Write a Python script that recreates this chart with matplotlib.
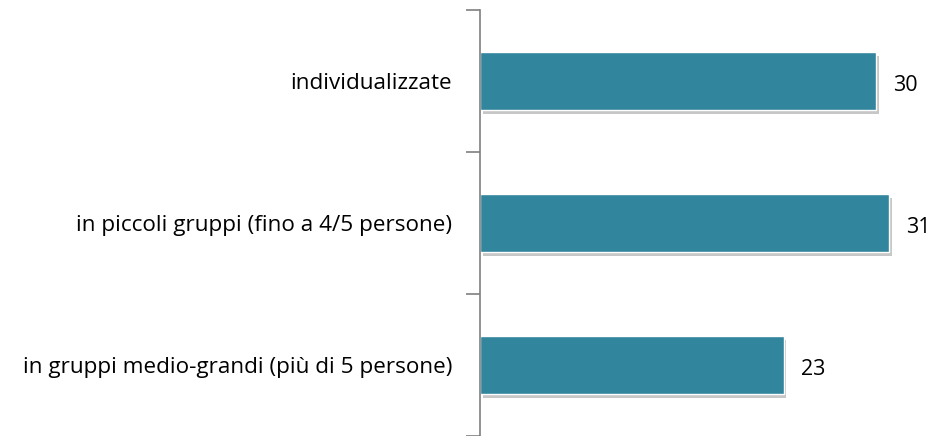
import matplotlib
matplotlib.use("Agg")
import matplotlib.pyplot as plt
import matplotlib.patheffects as pe

categories = ["individualizzate", "in piccoli gruppi (fino a 4/5 persone)", "in gruppi medio-grandi (più di 5 persone)"]
values = [30, 31, 23]

plt.rcParams['font.family'] = ['Open Sans', 'DejaVu Sans']

W, H = 938, 436
fig = plt.figure(figsize=(W/100, H/100), dpi=100)
ax = fig.add_axes([480/W, 0/H, (938-480)/W, (426)/H])

ypos = list(range(len(categories)))[::-1]
bars = ax.barh(ypos, values, height=0.41, color="#31859C", edgecolor="white", linewidth=1.0)
for b in bars:
    b.set_path_effects([pe.SimplePatchShadow(offset=(2, -3), shadow_rgbFace="#9a9a9a", alpha=0.55), pe.Normal()])

for y, v in zip(ypos, values):
    ax.text(v + 1.3, y - 0.03, str(v), va="center", ha="left", fontsize=15.5, color="black")

ax.set_xlim(0, 34.7)
ax.set_ylim(-0.5, 2.5)
ax.set_yticks([-0.5, 0.5, 1.5, 2.5], minor=False)
ax.set_yticklabels([])
ax.set_yticks(ypos, minor=True)
ax.set_yticklabels(categories, minor=True, fontsize=16.2)
ax.tick_params(axis="y", which="major", length=10, width=1.2, color="#7f7f7f", direction="out")
ax.tick_params(axis="y", which="minor", length=0, pad=20)
ax.set_xticks([])
for s in ["top", "right", "bottom"]:
    ax.spines[s].set_visible(False)
ax.spines["left"].set_color("#7f7f7f")
ax.spines["left"].set_linewidth(1.2)

fig.savefig("out.png", dpi=100)
